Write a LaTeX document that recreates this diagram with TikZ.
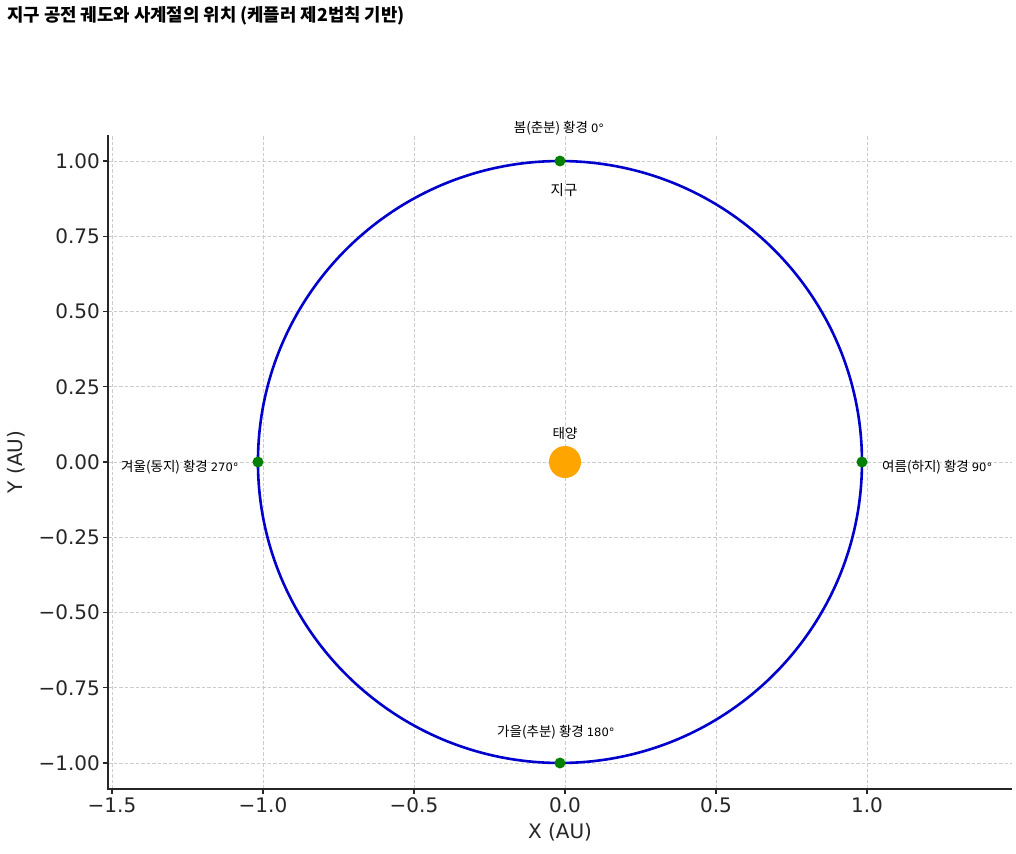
\documentclass[tikz,border=0pt]{standalone}
\usepackage{fontspec}
\setmainfont{DejaVu Sans}
\newfontfamily\kr{Noto Sans CJK KR}
\definecolor{orbitblue}{RGB}{0,0,205}
\definecolor{earthgreen}{RGB}{0,128,0}
\definecolor{sunorange}{RGB}{255,165,0}
\definecolor{gridgray}{RGB}{204,204,204}
\definecolor{spinegray}{RGB}{38,38,38}
\begin{document}
\begin{tikzpicture}[x=1pt,y=-1pt,
  gridline/.style={gridgray,line width=0.8pt,dash pattern=on 3.5pt off 2pt},
  spine/.style={spinegray,line width=1.4pt},
  tickmark/.style={spinegray,line width=1.2pt},
  ticklab/.style={font=\fontsize{20}{24}\selectfont,text=spinegray,inner sep=0pt},
  orbit/.style={orbitblue,line width=2.6pt},
  earth/.style={circle,fill=earthgreen,minimum size=11pt,inner sep=0pt},
  sunstyle/.style={circle,fill=sunorange,minimum size=32pt,inner sep=0pt},
  lab/.style={font=\kr\fontsize{13.5}{16}\selectfont,inner sep=0pt},
]
\fill[white] (0,0) rectangle (1016,853);
\useasboundingbox (0,0) rectangle (1016,853);

\node[anchor=west,font=\kr\bfseries\fontsize{17.8}{20}\selectfont,inner sep=0pt] (title) at (7,16)
  {지구 공전 궤도와 사계절의 위치 (케플러 제2법칙 기반)};

\begin{scope}[shift={(565,462)},x=302pt,y=301pt]
  % grid
  \foreach \gx in {-1.5,-1,-0.5,0,0.5,1}
    \draw[gridline] (\gx,-1.086) -- (\gx,1.086);
  \foreach \gy in {-1,-0.75,-0.5,-0.25,0,0.25,0.5,0.75,1}
    \draw[gridline] (-1.513,\gy) -- (1.48,\gy);
  % spines
  \draw[spine] (-1.513,1.086) -- (-1.513,-1.086) -- (1.48,-1.086);
  % x ticks
  \foreach \gx/\lab in {-1.5/−1.5,-1/−1.0,-0.5/−0.5,0/0.0,0.5/0.5,1/1.0}{
    \draw[tickmark] (\gx,-1.086) -- ++(0,-5pt);
    \node[ticklab,anchor=north] at ([yshift=-9pt]\gx,-1.086) {\lab};
  }
  % y ticks
  \foreach \gy/\lab in {-1/−1.00,-0.75/−0.75,-0.5/−0.50,-0.25/−0.25,0/0.00,0.25/0.25,0.5/0.50,0.75/0.75,1/1.00}{
    \draw[tickmark] (-1.513,\gy) -- ++(-5pt,0);
    \node[ticklab,anchor=east] at ([xshift=-8pt]-1.513,\gy) {\lab};
  }
  % orbit
  \draw[orbit] (-0.0167,0) ellipse [x radius=1, y radius=0.99986];
  % sun and earth positions
  \node[sunstyle] (sun) at (0,0) {};
  \node[earth] (spring) at (-0.0167,1) {};
  \node[earth] (summer) at (0.9833,0) {};
  \node[earth] (autumn) at (-0.0167,-1) {};
  \node[earth] (winter) at (-1.0167,0) {};
\end{scope}

% axis labels
\node[ticklab] (xlabel) at (560,832) {X (AU)};
\node[ticklab,rotate=90] (ylabel) at (16,462) {Y (AU)};

% text labels
\node[lab] (springlab) at (559,128) {봄(춘분) 황경 {\normalfont\fontsize{11.5}{13}\selectfont 0°}};
\node[lab,font=\kr\fontsize{14.5}{17}\selectfont] (earthlab) at (564,190) {지구};
\node[lab] (sunlab) at (565,433) {태양};
\node[lab,anchor=west] (winterlab) at (121,467) {겨울(동지) 황경 {\normalfont\fontsize{11.5}{13}\selectfont 270°}};
\node[lab,anchor=west] (summerlab) at (882,467) {여름(하지) 황경 {\normalfont\fontsize{11.5}{13}\selectfont 90°}};
\node[lab,anchor=west] (autumnlab) at (497,732) {가을(추분) 황경 {\normalfont\fontsize{11.5}{13}\selectfont 180°}};
\end{tikzpicture}
\end{document}
